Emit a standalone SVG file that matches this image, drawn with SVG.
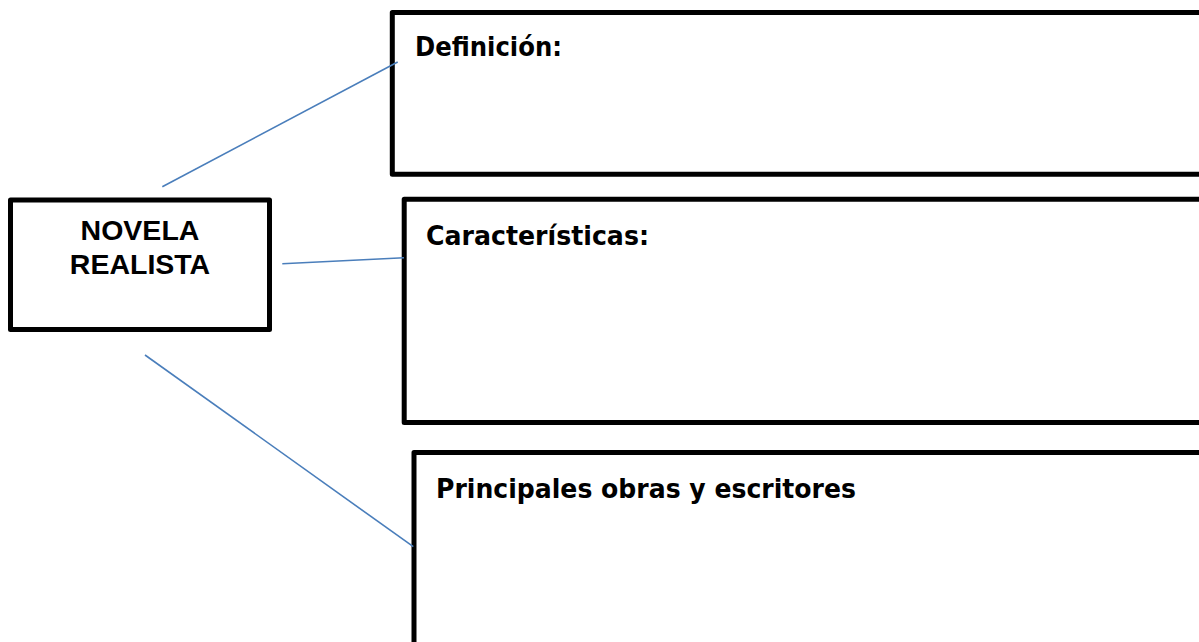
<svg xmlns="http://www.w3.org/2000/svg" width="1199" height="642" viewBox="0 0 1199 642">
<style>
.box{fill:#ffffff;stroke:#000000;stroke-width:5;stroke-linejoin:round}
.conn{stroke:#4a7ebb;stroke-width:1.6;fill:none}
.main{font-family:"Liberation Sans",Arial,sans-serif;font-weight:bold;font-size:28.5px;fill:#000;text-anchor:middle}
.lbl{font-family:"DejaVu Sans","Noto Sans",sans-serif;font-weight:bold;font-size:27px;fill:#000}
</style>
<rect x="0" y="0" width="1199" height="642" fill="#ffffff"/>
<g id="node-novela">
<rect class="box" x="10.5" y="200" width="259" height="129.5"/>
<text class="main" x="140" y="240">NOVELA</text>
<text class="main" x="140" y="274">REALISTA</text>
</g>
<g id="node-definicion">
<rect class="box" x="392.3" y="12.5" width="830" height="161.8"/>
<text class="lbl" x="415" y="56" textLength="147" lengthAdjust="spacingAndGlyphs">Definición:</text>
</g>
<g id="node-caracteristicas">
<rect class="box" x="404.2" y="199.2" width="820" height="223.3"/>
<text class="lbl" x="426" y="245" textLength="223" lengthAdjust="spacingAndGlyphs">Características:</text>
</g>
<g id="node-principales">
<rect class="box" x="414" y="452.5" width="810" height="220"/>
<text class="lbl" x="436" y="498" textLength="420" lengthAdjust="spacingAndGlyphs">Principales obras y escritores</text>
</g>
<g id="connectors">
<line class="conn" x1="162.3" y1="186.7" x2="397.7" y2="62"/>
<line class="conn" x1="282.3" y1="263.7" x2="404" y2="257.7"/>
<line class="conn" x1="145" y1="355" x2="413.3" y2="546.7"/>
</g>
</svg>
